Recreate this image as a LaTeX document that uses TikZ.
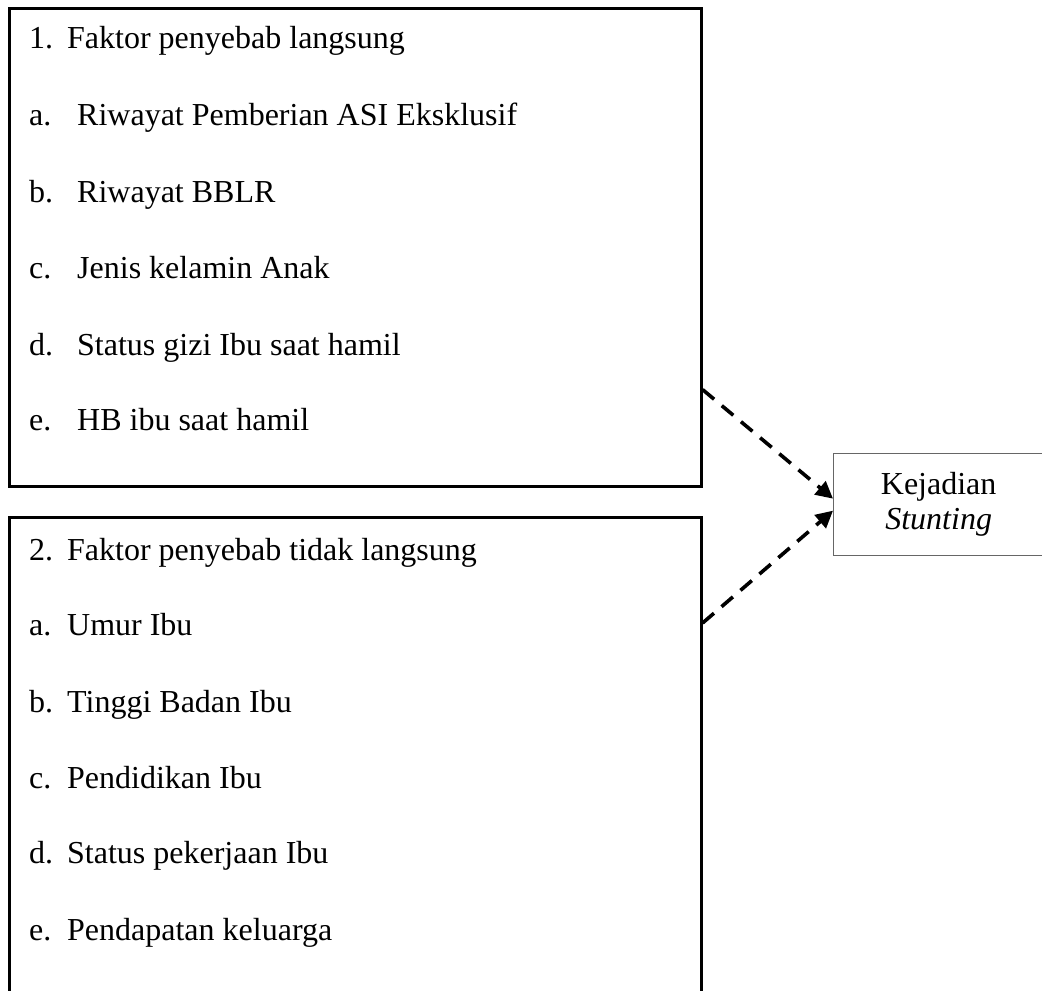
\documentclass[tikz,border=0pt]{standalone}
\usepackage{fontspec}
\setmainfont{Liberation Serif}
\usetikzlibrary{arrows.meta}

\begin{document}
\begin{tikzpicture}[x=1pt, y=-1pt,
    faktorbox/.style={draw, line width=2.6pt, rectangle, anchor=north west, minimum width=692pt, inner sep=0pt},
    baris/.style={anchor=base west, inner sep=0pt, font=\fontsize{32}{38}\selectfont},
    hasilbox/.style={draw=black!60, line width=1.3pt, rectangle, anchor=north west, minimum width=210pt, minimum height=102pt, align=center, font=\fontsize{32}{35}\selectfont},
    panah/.style={line width=3.6pt, dash pattern=on 15pt off 10pt, -{Triangle[length=17pt, width=17pt]}}]
    \useasboundingbox (0,0) rectangle (1042,991);
    \clip (0,0) rectangle (1042,991);

    % ボックス
    \node[faktorbox, minimum height=478pt] (langsung) at (8,7) {};
    \node[faktorbox, minimum height=520pt] (tidaklangsung) at (8,516) {};
    \node[hasilbox] (stunting) at (833,453) {Kejadian\\\textit{Stunting}};

    % テキスト
    \node[baris] (l0) at (29,48)  {\makebox[38pt][l]{1.}Faktor penyebab langsung};
    \node[baris] (l1) at (29,125) {\makebox[48pt][l]{a.}Riwayat Pemberian ASI Eksklusif};
    \node[baris] (l2) at (29,202) {\makebox[48pt][l]{b.}Riwayat BBLR};
    \node[baris] (l3) at (29,278) {\makebox[48pt][l]{c.}Jenis kelamin Anak};
    \node[baris] (l4) at (29,355) {\makebox[48pt][l]{d.}Status gizi Ibu saat hamil};
    \node[baris] (l5) at (29,430) {\makebox[48pt][l]{e.}HB ibu saat hamil};

    \node[baris] (t0) at (29,560) {\makebox[38pt][l]{2.}Faktor penyebab tidak langsung};
    \node[baris] (t1) at (29,635) {\makebox[38pt][l]{a.}Umur Ibu};
    \node[baris] (t2) at (29,712) {\makebox[38pt][l]{b.}Tinggi Badan Ibu};
    \node[baris] (t3) at (29,788) {\makebox[38pt][l]{c.}Pendidikan Ibu};
    \node[baris] (t4) at (29,863) {\makebox[38pt][l]{d.}Status pekerjaan Ibu};
    \node[baris] (t5) at (29,940) {\makebox[38pt][l]{e.}Pendapatan keluarga};

    % 矢印
    \draw[panah] ([yshift=98pt]langsung.south east) -- ([yshift=6pt]stunting.west);
    \draw[panah] ([yshift=-107pt]tidaklangsung.north east) -- ([yshift=-6pt]stunting.west);
\end{tikzpicture}
\end{document}
